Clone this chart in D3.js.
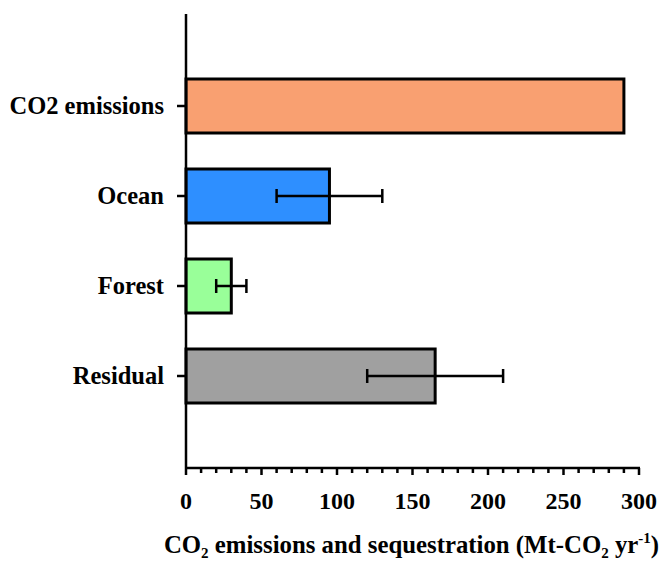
<!DOCTYPE html>
<html>
<head>
<meta charset="utf-8">
<script src="https://cdn.jsdelivr.net/npm/d3@7"></script>
<style>
  html, body { margin: 0; padding: 0; background: #fff; }
  svg { display: block; }
  text { font-family: "Liberation Serif", "Times New Roman", serif; font-weight: bold; fill: #000; }
</style>
</head>
<body>
<svg id="chart" width="662" height="562"></svg>
<script>
// Carbon budget components (Mt-CO2 per year)
const categories = ["CO2 emissions", "Ocean", "Forest", "Residual"];
const values = [290, 95, 30, 165];
const errors = [null, 35, 10, 45];
const colors = ["#F9A071", "#2E8FFF", "#99FF99", "#A0A0A0"];
const xTicks = [0, 50, 100, 150, 200, 250, 300];

const svg = d3.select("#chart");
const plotLeft = 186, plotRight = 639, plotTop = 14, plotBottom = 468;

const x = d3.scaleLinear().domain([0, 300]).range([plotLeft, plotRight]);
const y = d3.scaleBand().domain(categories).range([61, 421])
  .paddingInner(0.4).paddingOuter(0.2);

const data = categories.map((c, i) => ({ c, v: values[i], e: errors[i], col: colors[i] }));

// Bars
svg.append("g").selectAll("rect").data(data).join("rect")
  .attr("x", x(0))
  .attr("y", d => y(d.c))
  .attr("width", d => x(d.v) - x(0))
  .attr("height", y.bandwidth())
  .attr("fill", d => d.col)
  .attr("stroke", "#000")
  .attr("stroke-width", 3);

// Error bars
const eg = svg.append("g").attr("stroke", "#000").attr("stroke-width", 2.5);
data.filter(d => d.e != null).forEach(d => {
  const cy = y(d.c) + y.bandwidth() / 2;
  const x0 = x(d.v - d.e), x1 = x(d.v + d.e);
  eg.append("line").attr("x1", x0).attr("x2", x1).attr("y1", cy).attr("y2", cy);
  [x0, x1].forEach(xx => eg.append("line")
    .attr("x1", xx).attr("x2", xx).attr("y1", cy - 7).attr("y2", cy + 7));
});

// Y axis
const yAxis = svg.append("g").attr("transform", `translate(${plotLeft},0)`);
yAxis.append("line").attr("x1", 0).attr("x2", 0).attr("y1", plotTop).attr("y2", plotBottom)
  .attr("stroke", "#000").attr("stroke-width", 2.5);
categories.forEach(c => {
  const cy = y(c) + y.bandwidth() / 2;
  yAxis.append("line").attr("x1", -9).attr("x2", 0).attr("y1", cy).attr("y2", cy)
    .attr("stroke", "#000").attr("stroke-width", 2.5);
  yAxis.append("text").attr("x", -22).attr("y", cy).attr("dy", 8)
    .attr("text-anchor", "end").attr("font-size", 24.5).text(c);
});

// X axis
const xAxis = svg.append("g").attr("transform", `translate(0,${plotBottom})`);
xAxis.append("line").attr("x1", plotLeft - 1).attr("x2", plotRight + 1).attr("y1", 0).attr("y2", 0)
  .attr("stroke", "#000").attr("stroke-width", 2.5);
xAxis.selectAll("line.minor").data(d3.range(0, 301, 10)).join("line")
  .attr("class", "minor")
  .attr("x1", d => x(d)).attr("x2", d => x(d))
  .attr("y1", 0).attr("y2", d => d % 50 === 0 ? 7 : 5)
  .attr("stroke", "#000").attr("stroke-width", 2.5);
xAxis.selectAll("text").data(xTicks).join("text")
  .attr("x", d => x(d)).attr("y", 41)
  .attr("text-anchor", "middle").attr("font-size", 24)
  .text(d => d);

// X axis title with subscripts and superscript
const title = svg.append("text")
  .attr("x", (plotLeft + plotRight) / 2 - 1).attr("y", 553)
  .attr("text-anchor", "middle").attr("font-size", 24.8);
title.append("tspan").text("CO");
title.append("tspan").attr("font-size", 15).attr("dy", 5).text("2");
title.append("tspan").attr("dy", -5).text(" emissions and sequestration (Mt-CO");
title.append("tspan").attr("font-size", 15).attr("dy", 5).text("2");
title.append("tspan").attr("dy", -5).text(" yr");
title.append("tspan").attr("font-size", 15).attr("dy", -10).text("-1");
title.append("tspan").attr("dy", 10).text(")");
</script>
</body>
</html>
